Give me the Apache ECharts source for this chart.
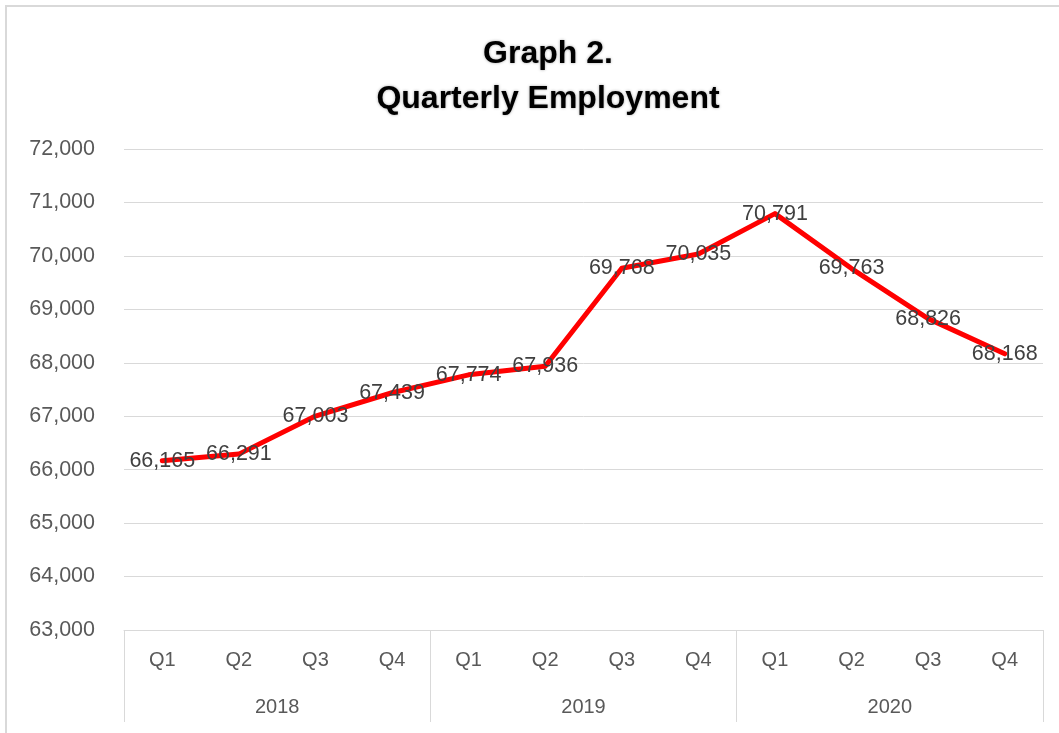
<!DOCTYPE html>
<html>
<head>
<meta charset="utf-8">
<script src="https://cdn.jsdelivr.net/npm/echarts@6/dist/echarts.min.js"></script>
<style>
html,body{margin:0;padding:0;background:#fff;}
#c{width:1059px;height:733px;}
</style>
</head>
<body>
<div id="c"></div>
<script>
const quarters = ['Q1','Q2','Q3','Q4','Q1','Q2','Q3','Q4','Q1','Q2','Q3','Q4'];
const years = ['2018','2019','2020'];
const employment = [66165, 66291, 67003, 67439, 67774, 67936, 69768, 70035, 70791, 69763, 68826, 68168];
const titleLines = ['Graph 2.', 'Quarterly Employment'];

const FONT = '"Liberation Sans", Arial, sans-serif';
const chart = echarts.init(document.getElementById('c'));
const fmt = v => v.toLocaleString('en-US');

chart.setOption({
  animation: false,
  backgroundColor: '#fff',
  title: {
    text: titleLines.join('\n'),
    left: 543,
    top: 27,
    textAlign: 'center',
    textStyle: {
      fontFamily: FONT, fontSize: 32, fontWeight: 'bold', color: '#000',
      lineHeight: 45,
      textShadowColor: 'rgba(0,0,0,0.35)', textShadowBlur: 3
    }
  },
  graphic: [{
    type: 'polyline',
    shape: { points: [[6, 733], [6, 6], [1059, 6]] },
    style: { fill: 'none', stroke: '#d9d9d9', lineWidth: 2 },
    silent: true, z: -1
  }],
  grid: { left: 124, right: 16, top: 149, bottom: 103, containLabel: false },
  xAxis: [{
    type: 'category',
    data: quarters,
    boundaryGap: true,
    axisLine: { show: true, lineStyle: { color: '#d9d9d9', width: 1 } },
    axisTick: { show: false },
    axisLabel: { fontFamily: FONT, fontSize: 20, color: '#595959', margin: 20, interval: 0 }
  }, {
    type: 'category',
    data: years,
    position: 'bottom',
    boundaryGap: true,
    axisLine: { show: false },
    axisTick: { show: true, length: 92, alignWithLabel: false, interval: 0, lineStyle: { color: '#d9d9d9', width: 1 } },
    axisLabel: { fontFamily: FONT, fontSize: 20, color: '#595959', margin: 67, interval: 0 }
  }],
  yAxis: {
    type: 'value',
    min: 63000, max: 72000, interval: 1000,
    axisLine: { show: false },
    axisTick: { show: false },
    splitLine: { lineStyle: { color: '#d9d9d9', width: 1 } },
    axisLabel: { fontFamily: FONT, fontSize: 21.5, color: '#595959', margin: 29, formatter: fmt }
  },
  series: [{
    type: 'line',
    xAxisIndex: 0,
    data: employment,
    symbol: 'none',
    lineStyle: { color: '#ff0000', width: 5, join: 'round', cap: 'round' },
    z: 3
  }, {
    type: 'scatter',
    xAxisIndex: 0,
    data: employment,
    symbol: 'circle',
    symbolSize: 2,
    itemStyle: { color: 'rgba(0,0,0,0)', borderWidth: 0, opacity: 1 },
    label: {
      show: true,
      position: 'inside',
      offset: [0, 2],
      fontFamily: FONT, fontSize: 21.5, color: '#404040', opacity: 1,
      formatter: p => fmt(p.value)
    },
    labelLayout: { hideOverlap: false },
    z: 4
  }]
});
</script>
</body>
</html>
